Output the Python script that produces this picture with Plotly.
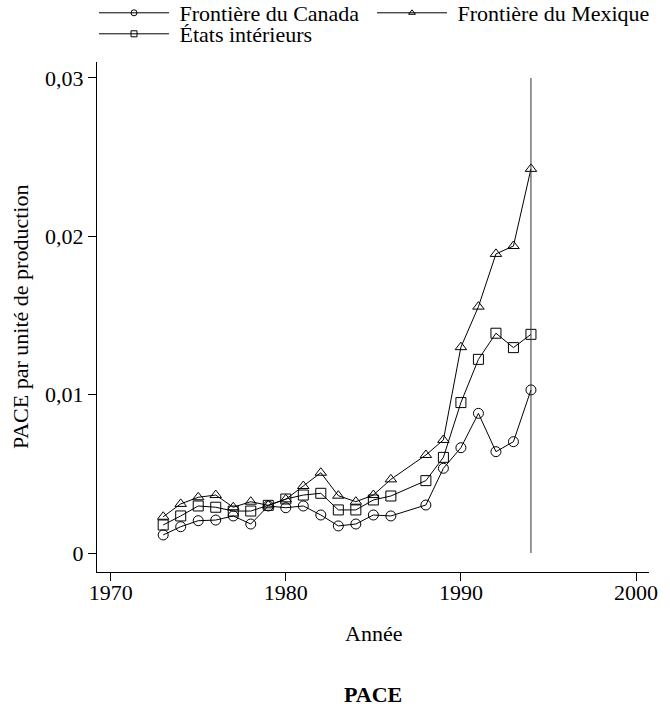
import plotly.graph_objects as go

years = [1973, 1974, 1975, 1976, 1977, 1978, 1979, 1980, 1981, 1982, 1983,
         1984, 1985, 1986, 1988, 1989, 1990, 1991, 1992, 1993, 1994]
canada = [0.00114, 0.00166, 0.00204, 0.00208, 0.00234, 0.00183, 0.00297,
          0.00286, 0.00297, 0.00240, 0.00171, 0.00183, 0.00240, 0.00234,
          0.00303, 0.00535, 0.00665, 0.00882, 0.00640, 0.00703, 0.01030]
mexique = [0.00229, 0.00310, 0.00352, 0.00366, 0.00289, 0.00324, 0.00301,
           0.00339, 0.00423, 0.00507, 0.00362, 0.00324, 0.00366, 0.00465,
           0.00619, 0.00714, 0.01300, 0.01556, 0.01889, 0.01939, 0.02426]
interieurs = [0.00177, 0.00234, 0.00297, 0.00289, 0.00265, 0.00265, 0.00301,
              0.00341, 0.00366, 0.00377, 0.00272, 0.00272, 0.00335, 0.00360,
              0.00457, 0.00604, 0.00950, 0.01223, 0.01388, 0.01297, 0.01381]

vline_year = [1994, 1994]
vline_span = [0, 0.03]

x_ticks = [1970, 1980, 1990, 2000]
x_ticklabels = ["1970", "1980", "1990", "2000"]
y_ticks = [0, 0.01, 0.02, 0.03]
y_ticklabels = ["0", "0,01", "0,02", "0,03"]

series = [
    ("Frontière du Canada", canada, "circle-open", "legend"),
    ("Frontière du Mexique", mexique, "triangle-up-open", "legend3"),
    ("États intérieurs", interieurs, "square-open", "legend2"),
]

FONT = "Liberation Serif"
FS = 22
fig = go.Figure()

for name, vals, sym, _ in series:
    fig.add_trace(go.Scatter(
        x=years, y=vals, mode="lines+markers", name=name, showlegend=False,
        line=dict(color="black", width=1),
        marker=dict(symbol=sym, size=10, color="black", line=dict(width=1, color="black")),
    ))

fig.add_trace(go.Scatter(
    x=vline_year, y=vline_span, mode="lines", showlegend=False,
    line=dict(color="#333333", width=1), hoverinfo="skip",
))

for name, vals, sym, leg in series:
    fig.add_trace(go.Scatter(
        x=[None], y=[None], mode="lines+markers", name="\u00a0" + name, showlegend=True,
        legend=leg,
        line=dict(color="black", width=1),
        marker=dict(symbol=sym, size=6, color="black", line=dict(width=1, color="black")),
    ))

L, R, T, B = 97, 21, 62, 136
W, H = 670, 708
pw, ph = W - L - R, H - T - B

def px(xp):
    return (xp - L) / pw

def py(yp):
    return (H - B - yp) / ph

legend_common = dict(
    orientation="h", xanchor="left", yanchor="top",
    itemwidth=70,
    font=dict(family=FONT, size=FS, color="black"),
    bgcolor="rgba(0,0,0,0)", borderwidth=0,
)

fig.update_layout(
    width=W, height=H,
    margin=dict(l=L, r=R, t=T, b=B, pad=0, autoexpand=False),
    paper_bgcolor="white", plot_bgcolor="white",
    font=dict(family=FONT, size=FS, color="black"),
    legend=dict(x=px(94), y=py(-8), **legend_common),
    legend3=dict(x=px(372), y=py(-8), **legend_common),
    legend2=dict(x=px(94), y=py(13), **legend_common),
    xaxis=dict(
        range=[1969.22, 2000.74], tickvals=x_ticks, ticktext=x_ticklabels,
        showgrid=False, zeroline=False, showline=True, linecolor="black", linewidth=1,
        ticks="outside", ticklen=8, tickcolor="black", tickwidth=1,
        tickfont=dict(family=FONT, size=FS), ticklabelstandoff=-7,
    ),
    yaxis=dict(
        range=[-0.0012, 0.03101], tickvals=y_ticks, ticktext=y_ticklabels,
        showgrid=False, zeroline=False, showline=True, linecolor="black", linewidth=1,
        ticks="outside", ticklen=8, tickcolor="black", tickwidth=1,
        tickfont=dict(family=FONT, size=FS),
    ),
    annotations=[
        dict(text="Année", xref="paper", yref="paper", x=0.5, y=py(633),
             xanchor="center", yanchor="middle", showarrow=False,
             font=dict(family=FONT, size=FS)),
        dict(text="PACE par unité de production", xref="paper", yref="paper",
             x=px(20), y=0.5, textangle=-90, xanchor="center", yanchor="middle",
             showarrow=False, font=dict(family=FONT, size=FS)),
        dict(text="<b>PACE</b>", xref="paper", yref="paper", x=0.5, y=py(694),
             xanchor="center", yanchor="middle", showarrow=False,
             font=dict(family=FONT, size=FS)),
    ],
)

fig.write_html("out.html")
